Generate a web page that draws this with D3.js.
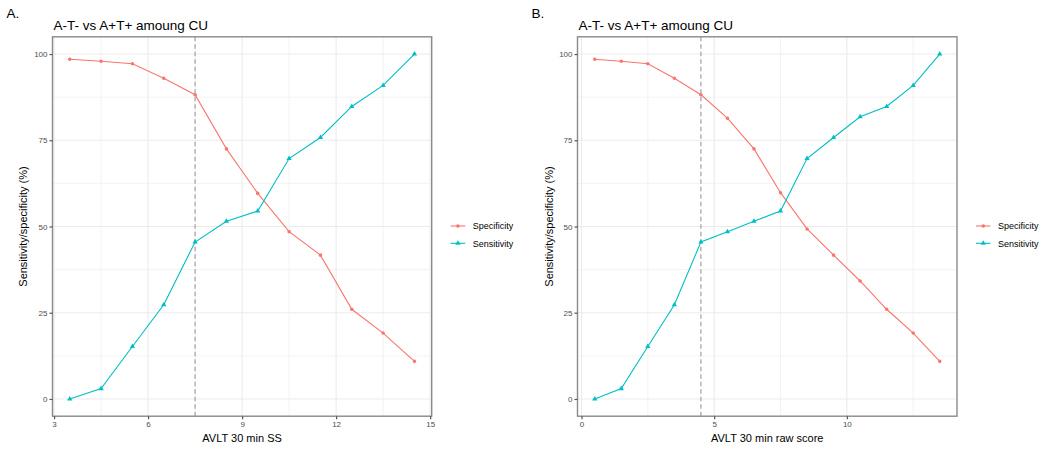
<!DOCTYPE html>
<html>
<head>
<meta charset="utf-8">
<script src="https://cdn.jsdelivr.net/npm/d3@7"></script>
<style>
  body { margin: 0; background: #fff; }
  text { font-family: "Liberation Sans", Arial, Helvetica, sans-serif; }
</style>
</head>
<body>
<svg id="chart" width="1050" height="450"></svg>
<script>
// ---- Data ----
const panelLabels = ["A.", "B."];
const titles = ["A-T- vs A+T+ amoung CU", "A-T- vs A+T+ amoung CU"];
const xTitles = ["AVLT 30 min SS", "AVLT 30 min raw score"];
const yTitle = "Sensitivity/specificity (%)";
const seriesNames = ["Specificity", "Sensitivity"];

const xA = [3.5, 4.5, 5.5, 6.5, 7.5, 8.5, 9.5, 10.5, 11.5, 12.5, 13.5, 14.5];
const specA = [98.5, 97.9, 97.2, 93.0, 88.2, 72.5, 59.6, 48.5, 41.7, 26.0, 19.1, 10.9];
const sensA = [0, 3.0, 15.2, 27.3, 45.5, 51.5, 54.5, 69.7, 75.8, 84.8, 90.9, 100];
const cutA = 7.5;
const xTicksA = [3, 6, 9, 12, 15];

const xB = [0.5, 1.5, 2.5, 3.5, 4.5, 5.5, 6.5, 7.5, 8.5, 9.5, 10.5, 11.5, 12.5, 13.5];
const specB = [98.5, 97.9, 97.2, 93.0, 88.2, 81.4, 72.5, 59.8, 49.3, 41.7, 34.2, 26.0, 19.1, 10.9];
const sensB = [0, 3.0, 15.2, 27.3, 45.5, 48.5, 51.5, 54.5, 69.7, 75.8, 81.8, 84.8, 90.9, 100];
const cutB = 4.5;
const xTicksB = [0, 5, 10];

const yTicks = [0, 25, 50, 75, 100];
const yMinor = [12.5, 37.5, 62.5, 87.5];
const xMinorA = [4.5, 7.5, 10.5, 13.5];
const xMinorB = [2.5, 7.5, 12.5];

const colors = ["#F8766D", "#00BFC4"];

// ---- Drawing ----
const svg = d3.select("#chart");

function expand(ext, mult) {
  const r = ext[1] - ext[0];
  return [ext[0] - r * mult, ext[1] + r * mult];
}

function drawPanel(opt) {
  const g = svg.append("g");
  const x = d3.scaleLinear().domain(expand(d3.extent(opt.xs), 0.05)).range([opt.left, opt.right]);
  const y = d3.scaleLinear().domain(expand([0, 100], 0.05)).range([opt.bottom, opt.top]);

  g.append("rect").attr("x", opt.left).attr("y", opt.top)
    .attr("width", opt.right - opt.left).attr("height", opt.bottom - opt.top)
    .attr("fill", "#fff");

  // minor grid
  g.selectAll(".ym").data(yMinor).join("line")
    .attr("x1", opt.left).attr("x2", opt.right)
    .attr("y1", d => y(d)).attr("y2", d => y(d))
    .attr("stroke", "#EBEBEB").attr("stroke-width", 0.6);
  g.selectAll(".xm").data(opt.xMinor).join("line")
    .attr("y1", opt.top).attr("y2", opt.bottom)
    .attr("x1", d => x(d)).attr("x2", d => x(d))
    .attr("stroke", "#EBEBEB").attr("stroke-width", 0.6);
  // major grid
  g.selectAll(".yM").data(yTicks).join("line")
    .attr("x1", opt.left).attr("x2", opt.right)
    .attr("y1", d => y(d)).attr("y2", d => y(d))
    .attr("stroke", "#EBEBEB").attr("stroke-width", 1.1);
  g.selectAll(".xM").data(opt.xTicks).join("line")
    .attr("y1", opt.top).attr("y2", opt.bottom)
    .attr("x1", d => x(d)).attr("x2", d => x(d))
    .attr("stroke", "#EBEBEB").attr("stroke-width", 1.1);

  // cutoff dashed line
  g.append("line")
    .attr("x1", x(opt.cut)).attr("x2", x(opt.cut))
    .attr("y1", opt.top).attr("y2", opt.bottom)
    .attr("stroke", "#A8A8A8").attr("stroke-width", 1.3)
    .attr("stroke-dasharray", "4.5,3");

  const line = d3.line().x(d => x(d[0])).y(d => y(d[1]));
  const series = [
    { name: seriesNames[0], vals: opt.spec, color: colors[0], shape: d3.symbolCircle, size: 10 },
    { name: seriesNames[1], vals: opt.sens, color: colors[1], shape: d3.symbolTriangle, size: 12 }
  ];
  series.forEach(s => {
    const pts = opt.xs.map((xv, i) => [xv, s.vals[i]]);
    g.append("path").datum(pts).attr("d", line)
      .attr("fill", "none").attr("stroke", s.color).attr("stroke-width", 1.1);
    g.selectAll(null).data(pts).join("path")
      .attr("d", d3.symbol().type(s.shape).size(s.size))
      .attr("transform", d => `translate(${x(d[0])},${y(d[1])})`)
      .attr("fill", s.color);
  });

  // panel border
  g.append("rect").attr("x", opt.left).attr("y", opt.top)
    .attr("width", opt.right - opt.left).attr("height", opt.bottom - opt.top)
    .attr("fill", "none").attr("stroke", "#8A8A8A").attr("stroke-width", 1.4);

  // axes
  const xAxis = d3.axisBottom(x).tickValues(opt.xTicks).tickSize(3).tickPadding(2).tickFormat(d3.format("d"));
  const gx = g.append("g").attr("transform", `translate(0,${opt.bottom})`).call(xAxis);
  const yAxis = d3.axisLeft(y).tickValues(yTicks).tickSize(3).tickPadding(2).tickFormat(d3.format("d"));
  const gy = g.append("g").attr("transform", `translate(${opt.left},0)`).call(yAxis);
  [gx, gy].forEach(a => {
    a.select(".domain").remove();
    a.selectAll(".tick line").attr("stroke", "#555555").attr("stroke-width", 1.2);
    a.selectAll(".tick text").attr("fill", "#4D4D4D").style("font-size", "8px")
      .style("font-family", "'Liberation Sans', Arial, sans-serif");
  });

  // titles
  g.append("text").attr("x", opt.labelX).attr("y", 18).text(opt.label)
    .style("font-size", "13.5px").attr("fill", "#000");
  g.append("text").attr("x", opt.left + 1).attr("y", 29.5).text(opt.title)
    .style("font-size", "13.5px").attr("fill", "#000");
  g.append("text").attr("x", (opt.left + opt.right) / 2).attr("y", 442)
    .attr("text-anchor", "middle").text(opt.xTitle)
    .style("font-size", "11px").attr("fill", "#000");
  g.append("text")
    .attr("transform", `translate(${opt.yTitleX},${(opt.top + opt.bottom) / 2}) rotate(-90)`)
    .attr("text-anchor", "middle").text(yTitle)
    .style("font-size", "11px").attr("fill", "#000");

  // legend
  const lg = g.append("g");
  series.forEach((s, i) => {
    const cy = 226 + i * 17.3;
    lg.append("line").attr("x1", opt.legendX).attr("x2", opt.legendX + 14.5)
      .attr("y1", cy).attr("y2", cy).attr("stroke", s.color).attr("stroke-width", 1.1);
    lg.append("path").attr("d", d3.symbol().type(s.shape).size(s.size))
      .attr("transform", `translate(${opt.legendX + 7.25},${cy})`).attr("fill", s.color);
    lg.append("text").attr("x", opt.legendX + 22).attr("y", cy + 3.2).text(s.name)
      .style("font-size", "9px").attr("fill", "#000");
  });
}

drawPanel({
  xs: xA, spec: specA, sens: sensA, cut: cutA, xTicks: xTicksA, xMinor: xMinorA,
  left: 52.5, right: 431.7, top: 36.8, bottom: 416.2,
  label: panelLabels[0], labelX: 6.5, title: titles[0], xTitle: xTitles[0],
  yTitleX: 26.5, legendX: 450.7
});
drawPanel({
  xs: xB, spec: specB, sens: sensB, cut: cutB, xTicks: xTicksB, xMinor: xMinorB,
  left: 577.5, right: 957, top: 36.8, bottom: 416.2,
  label: panelLabels[1], labelX: 531.5, title: titles[1], xTitle: xTitles[1],
  yTitleX: 552.5, legendX: 976
});
</script>
</body>
</html>
